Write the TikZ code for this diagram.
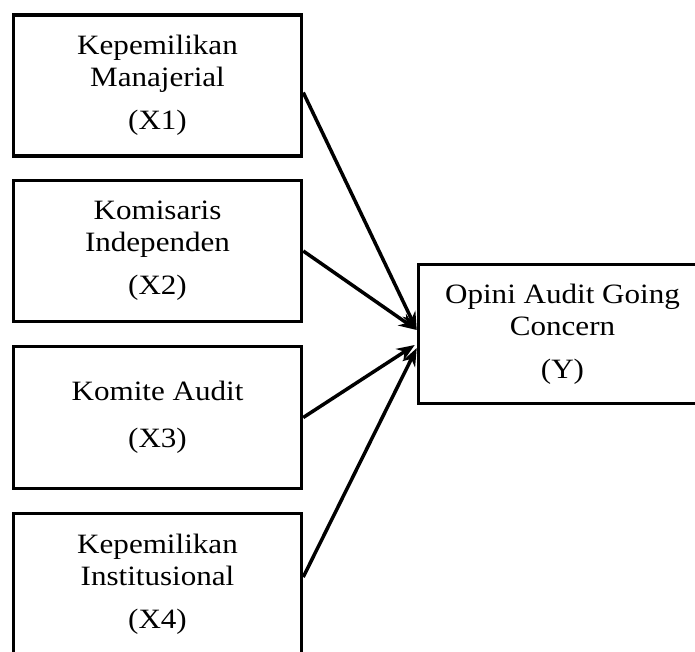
\documentclass[tikz,border=0pt]{standalone}
\usepackage{fontspec}
\setmainfont{Liberation Serif}[FakeStretch=1.11]
\usetikzlibrary{arrows.meta}
\usetikzlibrary{positioning}
\usetikzlibrary{calc}
\begin{document}
\begin{tikzpicture}[x=1pt,y=1pt]
\tikzstyle{variabel}=[rectangle,draw,line width=3.5pt,fill=white,
        minimum width=288pt,align=center,inner sep=0pt,
        font=\fontsize{28}{32}\selectfont]
%styledesflèches
\tikzstyle{pengaruh}=[-{Stealth[length=18pt,width=14pt]},line width=3.5pt]
\useasboundingbox (0,0) rectangle (695,-651);
\clip (0,0) rectangle (695,-651);
%placementdesnœuds
\node[variabel,minimum height=141pt] (x1) at (157.5,-85.5) {Kepemilikan\\ Manajerial\\[11pt] (X1)};
\node[variabel,minimum height=141pt] (x2) at (157.5,-251) {Komisaris\\ Independen\\[11pt] (X2)};
\node[variabel,minimum height=142pt] (x3) at (157.5,-417.5) {Komite Audit\\[15pt] (X3)};
\node[variabel,minimum height=141pt] (x4) at (157.5,-584) {Kepemilikan\\ Institusional\\[11pt] (X4)};
\node[variabel,minimum height=139pt] (y) at (562.5,-334) {Opini Audit Going\\ Concern\\[11pt] (Y)};
%Placementdesflèches
\draw[pengaruh] ($(x1.east)+(0,-7)$) -- ($(y.west)+(0,4)$);
\draw[pengaruh] (x2.east) -- ($(y.west)+(0,4)$);
\draw[pengaruh] (x3.east) -- ($(y.west)+(-2,-11)$);
\draw[pengaruh] ($(x4.east)+(0,7)$) -- ($(y.west)+(0,-14)$);
\end{tikzpicture}
\end{document}
